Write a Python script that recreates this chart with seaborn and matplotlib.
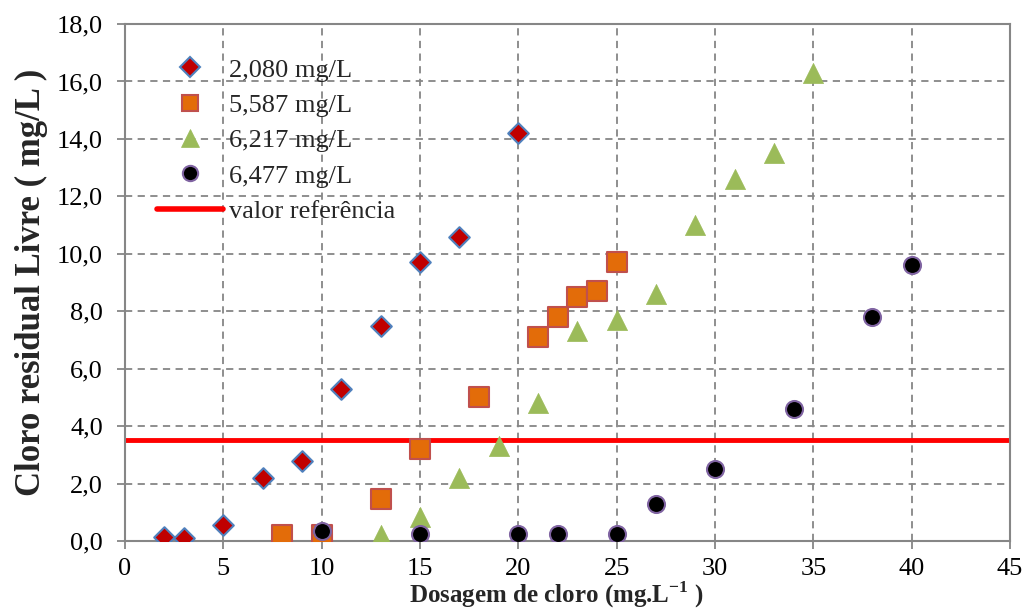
import matplotlib
matplotlib.use("Agg")
import matplotlib.pyplot as plt
import matplotlib.ticker as mticker
from matplotlib.lines import Line2D
import seaborn as sns
import pandas as pd

# Free residual chlorine vs. chlorine dosage for four initial concentrations
labels = ["2,080 mg/L", "5,587 mg/L", "6,217 mg/L", "6,477 mg/L"]

dose_2080 = [2, 3, 5, 7, 9, 11, 13, 15, 17, 20]
res_2080 = [0.15, 0.10, 0.55, 2.20, 2.80, 5.30, 7.50, 9.70, 10.60, 14.20]

dose_5587 = [8, 10, 13, 15, 18, 21, 22, 23, 24, 25]
res_5587 = [0.20, 0.20, 1.45, 3.20, 5.00, 7.10, 7.80, 8.50, 8.70, 9.70]

dose_6217 = [13, 15, 17, 19, 21, 23, 25, 27, 29, 31, 33, 35]
res_6217 = [0.20, 0.85, 2.20, 3.30, 4.80, 7.30, 7.70, 8.60, 11.00, 12.60, 13.50, 16.30]

dose_6477 = [10, 15, 20, 22, 25, 27, 30, 34, 38, 40]
res_6477 = [0.35, 0.25, 0.25, 0.25, 0.25, 1.30, 2.50, 4.60, 7.80, 9.60]

reference_value = 3.5
reference_label = "valor referência"

sns.set_theme(style="white")
plt.rcParams["font.family"] = ["Liberation Serif", "DejaVu Serif"]
plt.rcParams["mathtext.fontset"] = "custom"
plt.rcParams["mathtext.rm"] = "Liberation Serif"
plt.rcParams["mathtext.bf"] = "Liberation Serif:bold"

fig = plt.figure(figsize=(10.23, 6.13), dpi=100)
ax = fig.add_axes([0.1222, 0.1175, 0.8651, 0.8433])

styles = [
    dict(marker="D", color="#C00000", edge="#4F81BD", size=110, lw=1.5, leg=10),
    dict(marker="s", color="#E36C09", edge="#C0504D", size=220, lw=1.5, leg=11.5),
    dict(marker="^", color="#9BBB59", edge="#9BBB59", size=210, lw=0.5, leg=12.5),
    dict(marker="o", color="#000000", edge="#8064A2", size=150, lw=1.5, leg=11),
]
series = [(dose_2080, res_2080), (dose_5587, res_5587),
          (dose_6217, res_6217), (dose_6477, res_6477)]

for (x, y), lab, st in zip(series, labels, styles):
    df = pd.DataFrame({"dose": x, "residual": y})
    sns.scatterplot(data=df, x="dose", y="residual", ax=ax,
                    marker=st["marker"], color=st["color"],
                    edgecolor=st["edge"], linewidth=st["lw"],
                    s=st["size"], zorder=3, legend=False)

ax.axhline(reference_value, color="#FF0000", lw=3.5, zorder=2)

ax.set_xlim(0, 45)
ax.set_ylim(0, 18)
ax.xaxis.set_major_locator(mticker.MultipleLocator(5))
ax.yaxis.set_major_locator(mticker.MultipleLocator(2))
ax.yaxis.set_major_formatter(
    mticker.FuncFormatter(lambda v, p: f"{v:.1f}".replace(".", ",")))

ax.grid(True, color="#868686", linestyle=(0, (4, 3)), linewidth=1.3)
ax.set_axisbelow(True)
for sp in ax.spines.values():
    sp.set_color("#868686")
    sp.set_linewidth(1.5)
ax.tick_params(axis="both", direction="out", length=6, width=1.3,
               color="#868686", labelsize=19, labelcolor="black")
ax.tick_params(axis="y", pad=10)
ax.tick_params(axis="x", pad=6)
ax.tick_params(axis="both", which="both", bottom=True, left=True)

ax.set_xlabel(r"Dosagem de cloro (mg.L$^{\mathbf{-1}}$ )", fontsize=18,
              fontweight="bold")
ax.xaxis.set_label_coords(0.487, -0.1335, transform=ax.transAxes)
ax.xaxis.label.set_va("bottom")
ax.set_ylabel("Cloro residual Livre ( mg/L )", fontsize=25,
              fontweight="bold", labelpad=6)

handles = []
for lab, st in zip(labels, styles):
    handles.append(Line2D([], [], linestyle="none", marker=st["marker"],
                          markerfacecolor=st["color"],
                          markeredgecolor=st["edge"],
                          markeredgewidth=st["lw"],
                          markersize=st["leg"], label=lab))
handles.append(Line2D([], [], color="#FF0000", lw=4, label=reference_label))
ax.legend(handles=handles, loc="upper left", bbox_to_anchor=(0.036, 0.934),
          frameon=False, fontsize=19, handlelength=2.5, handletextpad=0.25,
          labelspacing=0.45, borderaxespad=0, borderpad=0)

fig.savefig("out.png", dpi=100)
